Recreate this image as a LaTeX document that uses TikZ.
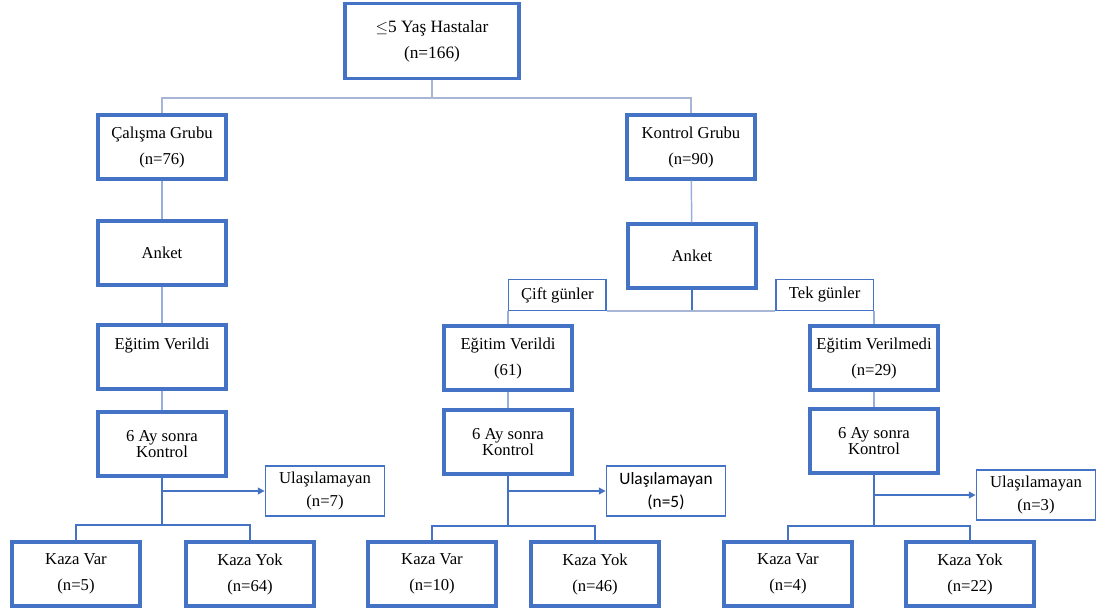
\documentclass[tikz,border=0pt]{standalone}
\usepackage{fontspec}
\setmainfont{Liberation Serif}
\newfontfamily\bodyfont{Carlito}
\usetikzlibrary{arrows.meta}
\definecolor{boxblue}{HTML}{4472C4}
\definecolor{busgray}{HTML}{A8B6D6}
\definecolor{linkblue}{HTML}{95AEDD}
\begin{document}
\begin{tikzpicture}[
  x=0.75pt, y=-0.75pt,
  every node/.style={rectangle, align=center, fill=white, inner sep=2pt, font=\fontsize{12.5}{19.5}\selectfont},
  stage/.style={draw=boxblue, line width=2.5pt, minimum width=96pt, minimum height=48pt},
  check/.style={stage, font=\fontsize{12.5}{12.5}\selectfont},
  lost/.style={draw=boxblue, line width=1.1pt, minimum width=89.5pt, minimum height=37.5pt, font=\fontsize{12.5}{17}\selectfont},
  day/.style={draw=boxblue, line width=1.1pt, minimum width=73pt, minimum height=23pt},
  bus/.style={draw=busgray, line width=1.5pt},
  link/.style={draw=linkblue, line width=1.1pt},
  tree/.style={draw=boxblue, line width=1.1pt},
  line/.style={-{Triangle[length=5pt,width=5pt]}, draw=boxblue, line width=1.1pt}
]
\useasboundingbox (0,0) rectangle (1101,612);

\node[stage, minimum width=130.5pt, minimum height=56pt, font=\fontsize{13}{19.5}\selectfont] (patients) at (432,41) {$\leq$5 Yaş Hastalar\\(n=166)};

\node[stage] (study) at (162,147) {Çalışma Grubu\\(n=76)};
\node[stage] (control) at (691,147) {Kontrol Grubu\\(n=90)};

% left branch
\node[stage] (surveyL) at (162,253) {Anket};
\node[stage] (trainL) at (162,357) {Eğitim Verildi\\\mbox{}};
\node[check] (checkL) at (162,444) {6 Ay sonra\\Kontrol};
\node[lost] (lostL) at (325,491) {Ulaşılamayan\\(n=7)};
\node[stage] (yesL) at (76,574) {Kaza Var\\(n=5)};
\node[stage] (noL) at (250,574) {Kaza Yok\\(n=64)};

% right branch
\node[stage] (surveyR) at (692,256) {Anket};
\node[day, anchor=south west] (even) at (508,311) {Çift günler};
\node[day, anchor=south east] (odd) at (874,311) {Tek günler};

\node[stage] (trainM) at (508,358) {Eğitim Verildi\\(61)};
\node[check] (checkM) at (508,442) {6 Ay sonra\\Kontrol};
\node[lost, font=\bodyfont\fontsize{13}{17}\selectfont] (lostM) at (666,491) {Ulaşılamayan\\(n=5)};
\node[stage] (yesM) at (432,574) {Kaza Var\\(n=10)};
\node[stage] (noM) at (595,574) {Kaza Yok\\(n=46)};

\node[stage] (trainN) at (874,358) {Eğitim Verilmedi\\(n=29)};
\node[check] (checkN) at (874,441) {6 Ay sonra\\Kontrol};
\node[lost] (lostN) at (1036,495) {Ulaşılamayan\\(n=3)};
\node[stage] (yesN) at (788,574) {Kaza Var\\(n=4)};
\node[stage] (noN) at (970,574) {Kaza Yok\\(n=22)};

\coordinate (split) at (432,98);
\coordinate (forkL) at (162,525);
\coordinate (forkM) at (508,526);
\coordinate (forkN) at (874,526);

% Lines
\draw [bus] (patients) -- (split);
\draw [bus] (study) |- (split) -| (control);
\draw [link] (study) -- (surveyL);
\draw [link] (surveyL) -- (trainL);
\draw [link] (trainL) -- (checkL);
\draw [link] (control) -- (surveyR);
\draw [tree] (surveyR) -- (surveyR.south |- even.south);
\draw [bus] (even.south east) -- (odd.south west);
\draw [link] (even.south west) -- (trainM);
\draw [link] (odd.south east) -- (trainN);
\draw [link] (trainM) -- (checkM);
\draw [link] (trainN) -- (checkN);

\draw [tree] (checkL) -- (forkL);
\draw [tree] (yesL) |- (forkL) -| (noL);
\draw [tree] (checkM) -- (forkM);
\draw [tree] (yesM) |- (forkM) -| (noM);
\draw [tree] (checkN) -- (forkN);
\draw [tree] (yesN) |- (forkN) -| (noN);

% Arrows
\draw [line] (checkL.south |- lostL.west) -- (lostL);
\draw [line] (checkM.south |- lostM.west) -- (lostM);
\draw [line] (checkN.south |- lostN.west) -- (lostN);

\end{tikzpicture}
\end{document}
